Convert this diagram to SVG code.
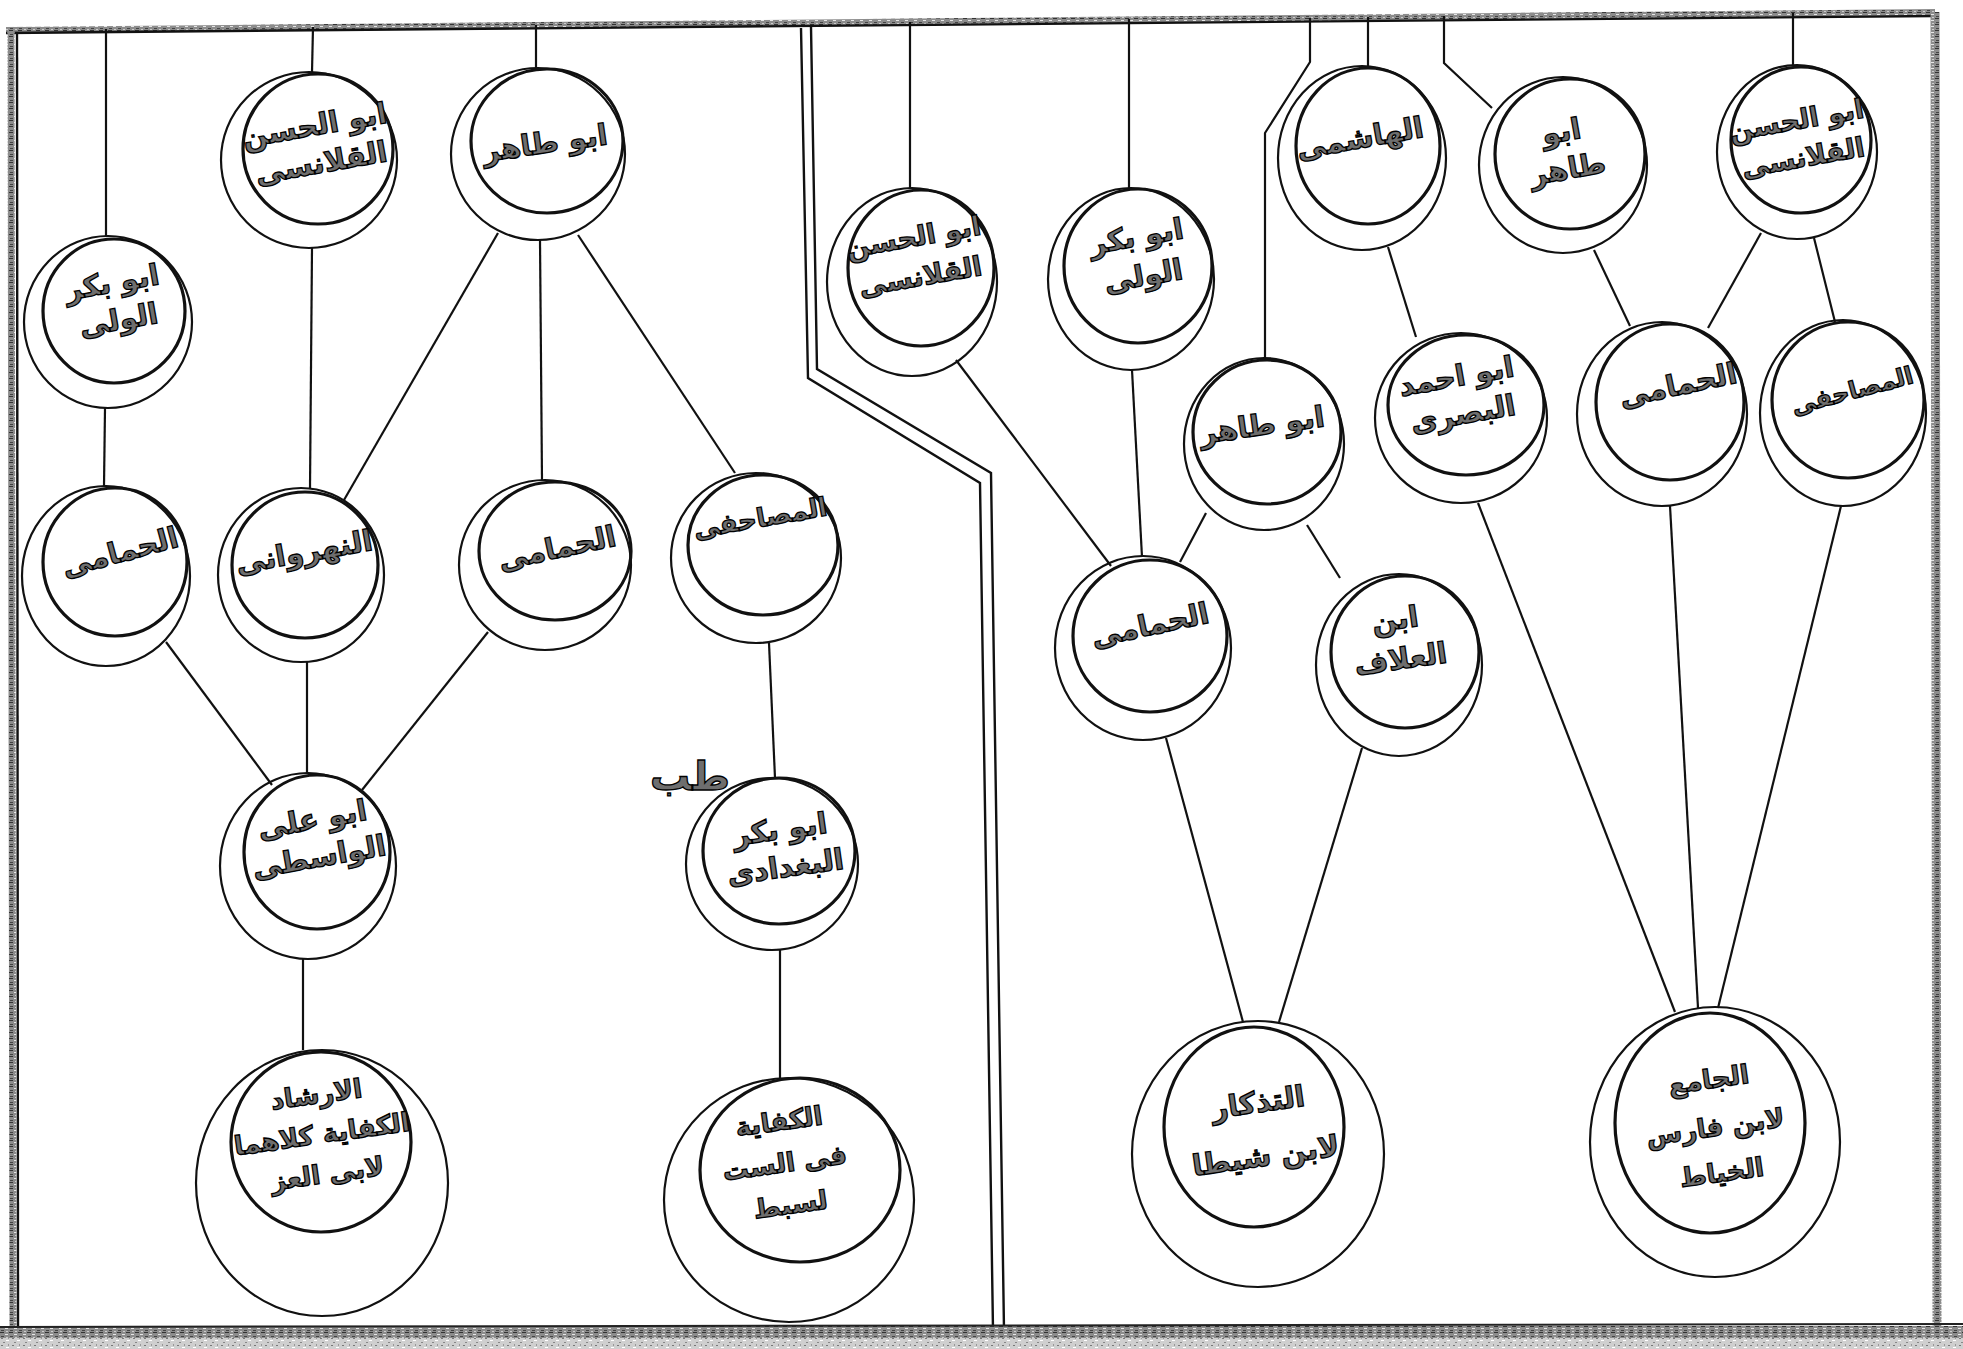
<svg xmlns="http://www.w3.org/2000/svg" width="1963" height="1349" viewBox="0 0 1963 1349">
<defs>
<pattern id="grain" width="9" height="6" patternUnits="userSpaceOnUse">
<rect width="9" height="6" fill="#8c8c8c"/>
<rect x="0" y="0" width="4" height="1" fill="#333"/>
<rect x="5" y="2" width="3" height="1" fill="#e6e6e6"/>
<rect x="1" y="4" width="3" height="1" fill="#444"/>
<rect x="6" y="5" width="2" height="1" fill="#ccc"/>
</pattern>
<pattern id="speck" width="11" height="7" patternUnits="userSpaceOnUse">
<rect width="11" height="7" fill="#cfcfcf"/>
<rect x="1" y="1" width="2" height="1" fill="#777"/>
<rect x="6" y="3" width="3" height="1" fill="#fff"/>
<rect x="3" y="5" width="2" height="1" fill="#888"/>
<rect x="8" y="0" width="1" height="2" fill="#999"/>
</pattern>
<style>
.outer{fill:none;stroke:#111;stroke-width:2.2}
.inner{fill:none;stroke:#111;stroke-width:3.2}
.edge{fill:none;stroke:#111;stroke-width:2.2}
.frame{fill:none;stroke:#111;stroke-width:2.4}
.lbl{font-family:"DejaVu Sans",sans-serif;font-weight:bold;font-size:29px;fill:#6e6e6e;stroke:#000;stroke-width:1.3;text-anchor:middle;direction:rtl}
.sm{font-size:26px}
</style>
</defs>
<rect width="1963" height="1349" fill="#fff"/>

<g id="frame">
<polyline points="6,30 1935,12" fill="none" stroke="url(#grain)" stroke-width="6"/>
<polyline points="6,33 1935,16" class="frame" stroke-width="2"/>
<line x1="11" y1="30" x2="13" y2="1330" stroke="url(#grain)" stroke-width="7"/>
<line x1="17" y1="32" x2="18" y2="1328" class="frame" stroke-width="1.8"/>
<line x1="1935" y1="12" x2="1937" y2="1330" stroke="url(#grain)" stroke-width="9"/>
<polyline class="frame" points="801,28 808,378 980,483 993,1330"/>
<polyline class="frame" points="811,27 817,369 991,473 1004,1330"/>
<rect x="0" y="1326" width="1963" height="12" fill="url(#grain)"/>
<line x1="0" y1="1327" x2="1963" y2="1324" stroke="#222" stroke-width="2"/>
<rect x="0" y="1338" width="1963" height="11" fill="url(#speck)"/>
</g>

<g id="connectors">
<line class="edge" x1="106" y1="29" x2="106" y2="237"/>
<line class="edge" x1="313" y1="27" x2="312" y2="72"/>
<line class="edge" x1="536" y1="25" x2="536" y2="68"/>
<line class="edge" x1="105" y1="408" x2="104" y2="486"/>
<line class="edge" x1="312" y1="248" x2="310" y2="488"/>
<line class="edge" x1="498" y1="233" x2="344" y2="500"/>
<line class="edge" x1="540" y1="240" x2="542" y2="480"/>
<line class="edge" x1="578" y1="235" x2="735" y2="473"/>
<line class="edge" x1="166" y1="642" x2="272" y2="785"/>
<line class="edge" x1="307" y1="662" x2="307" y2="773"/>
<line class="edge" x1="488" y1="632" x2="362" y2="790"/>
<line class="edge" x1="769" y1="643" x2="775" y2="778"/>
<line class="edge" x1="303" y1="959" x2="303" y2="1050"/>
<line class="edge" x1="780" y1="950" x2="780" y2="1080"/>

<line class="edge" x1="910" y1="22" x2="910" y2="188"/>
<line class="edge" x1="1129" y1="19" x2="1129" y2="188"/>
<line class="edge" x1="1368" y1="17" x2="1368" y2="67"/>
<polyline class="edge" points="1310,18 1310,62 1265,133 1265,358"/>
<polyline class="edge" points="1444,16 1444,63 1492,108"/>
<line class="edge" x1="1793" y1="13" x2="1793" y2="65"/>
<line class="edge" x1="956" y1="360" x2="1111" y2="566"/>
<line class="edge" x1="1132" y1="370" x2="1142" y2="557"/>
<line class="edge" x1="1206" y1="513" x2="1180" y2="562"/>
<line class="edge" x1="1307" y1="525" x2="1340" y2="578"/>
<line class="edge" x1="1388" y1="247" x2="1416" y2="337"/>
<line class="edge" x1="1594" y1="250" x2="1630" y2="326"/>
<line class="edge" x1="1761" y1="233" x2="1708" y2="328"/>
<line class="edge" x1="1814" y1="238" x2="1835" y2="322"/>
<line class="edge" x1="1166" y1="738" x2="1243" y2="1022"/>
<line class="edge" x1="1362" y1="748" x2="1279" y2="1022"/>
<line class="edge" x1="1478" y1="503" x2="1675" y2="1012"/>
<line class="edge" x1="1670" y1="506" x2="1698" y2="1008"/>
<line class="edge" x1="1841" y1="506" x2="1718" y2="1008"/>
</g>

<g id="L1"><ellipse class="outer" cx="108" cy="322" rx="84" ry="86"/><ellipse class="inner" cx="114" cy="311" rx="71" ry="72"/>
<text class="lbl" transform="rotate(-10 116 305)" x="116" y="292"><tspan x="116">ابو بكر</tspan><tspan x="116" dy="38">الولى</tspan></text></g>
<g id="L2"><ellipse class="outer" cx="309" cy="160" rx="88" ry="88"/><ellipse class="inner" cx="318" cy="149" rx="75" ry="75"/>
<text class="lbl" transform="rotate(-10 318 145)" x="318" y="135"><tspan x="318">ابو الحسن</tspan><tspan x="318" dy="38">القلانسى</tspan></text></g>
<g id="L3"><ellipse class="outer" cx="538" cy="154" rx="87" ry="86"/><ellipse class="inner" cx="547" cy="141" rx="76" ry="72"/>
<text class="lbl" transform="rotate(-8 545 143)" x="545" y="153">ابو طاهر</text></g>
<g id="L4"><ellipse class="outer" cx="106" cy="576" rx="84" ry="90"/><ellipse class="inner" cx="115" cy="562" rx="72" ry="74"/>
<text class="lbl" transform="rotate(-15 120 552)" x="120" y="562">الحمامى</text></g>
<g id="L5"><ellipse class="outer" cx="301" cy="575" rx="83" ry="87"/><ellipse class="inner" cx="305" cy="565" rx="73" ry="73"/>
<text class="lbl" transform="rotate(-10 304 552)" x="304" y="562">النهروانى</text></g>
<g id="L6"><ellipse class="outer" cx="545" cy="565" rx="86" ry="85"/><ellipse class="inner" cx="555" cy="551" rx="76" ry="69"/>
<text class="lbl" transform="rotate(-12 557 548)" x="557" y="558">الحمامى</text></g>
<g id="L7"><ellipse class="outer" cx="756" cy="558" rx="85" ry="85"/><ellipse class="inner" cx="763" cy="545" rx="75" ry="70"/>
<text class="lbl" transform="rotate(-10 760 517)" x="760" y="527" style="font-size:26px">المصاحفى</text></g>
<g id="L8"><ellipse class="outer" cx="308" cy="866" rx="88" ry="93"/><ellipse class="inner" cx="317" cy="852" rx="73" ry="77"/>
<text class="lbl" transform="rotate(-10 316 840)" x="316" y="829"><tspan x="316">ابو على</tspan><tspan x="316" dy="38">الواسطى</tspan></text></g>
<g id="L9"><ellipse class="outer" cx="772" cy="864" rx="86" ry="86"/><ellipse class="inner" cx="779" cy="851" rx="76" ry="73"/>
<text class="lbl" transform="rotate(-8 783 850)" x="783" y="839"><tspan x="783">ابو بكر</tspan><tspan x="783" dy="38">البغدادى</tspan></text>
<text class="lbl" x="690" y="790" style="font-size:40px">طب</text></g>
<g id="L10"><ellipse class="outer" cx="322" cy="1183" rx="126" ry="133"/><ellipse class="inner" cx="321" cy="1142" rx="90" ry="90"/>
<text class="lbl sm" transform="rotate(-8 322 1135)" x="322" y="1103"><tspan x="322">الارشاد</tspan><tspan x="322" dy="40">الكفاية كلاهما</tspan><tspan x="322" dy="40">لابى العز</tspan></text></g>
<g id="L11"><ellipse class="outer" cx="789" cy="1200" rx="125" ry="122"/><ellipse class="inner" cx="800" cy="1170" rx="100" ry="92"/>
<text class="lbl sm" transform="rotate(-8 785 1165)" x="785" y="1130"><tspan x="785">الكفاية</tspan><tspan x="785" dy="42">فى الست</tspan><tspan x="785" dy="42">لسبط</tspan></text></g>

<g id="R1"><ellipse class="outer" cx="912" cy="282" rx="85" ry="94"/><ellipse class="inner" cx="921" cy="268" rx="73" ry="78"/>
<text class="lbl" transform="rotate(-10 917 257)" x="917" y="246" style="font-size:27px"><tspan x="917">ابو الحسن</tspan><tspan x="917" dy="40">القلانسى</tspan></text></g>
<g id="R2"><ellipse class="outer" cx="1131" cy="279" rx="83" ry="91"/><ellipse class="inner" cx="1138" cy="266" rx="74" ry="77"/>
<text class="lbl" transform="rotate(-10 1140 257)" x="1140" y="246"><tspan x="1140">ابو بكر</tspan><tspan x="1140" dy="40">الولى</tspan></text></g>
<g id="R3"><ellipse class="outer" cx="1362" cy="158" rx="84" ry="92"/><ellipse class="inner" cx="1368" cy="146" rx="72" ry="78"/>
<text class="lbl" transform="rotate(-10 1360 138)" x="1360" y="148">الهاشمى</text></g>
<g id="R4"><ellipse class="outer" cx="1563" cy="165" rx="84" ry="88"/><ellipse class="inner" cx="1570" cy="154" rx="75" ry="75"/>
<text class="lbl" transform="rotate(-10 1565 152)" x="1565" y="141"><tspan x="1565">ابو</tspan><tspan x="1565" dy="38">طاهر</tspan></text></g>
<g id="R5"><ellipse class="outer" cx="1797" cy="152" rx="80" ry="87"/><ellipse class="inner" cx="1801" cy="140" rx="70" ry="73"/>
<text class="lbl" transform="rotate(-10 1800 140)" x="1800" y="129" style="font-size:27px"><tspan x="1800">ابو الحسن</tspan><tspan x="1800" dy="38">القلانسى</tspan></text></g>
<g id="R6"><ellipse class="outer" cx="1264" cy="444" rx="80" ry="86"/><ellipse class="inner" cx="1267" cy="432" rx="74" ry="72"/>
<text class="lbl" transform="rotate(-8 1262 425)" x="1262" y="435">ابو طاهر</text></g>
<g id="R7"><ellipse class="outer" cx="1461" cy="418" rx="86" ry="85"/><ellipse class="inner" cx="1466" cy="405" rx="78" ry="70"/>
<text class="lbl" transform="rotate(-10 1460 397)" x="1460" y="386"><tspan x="1460">ابو احمد</tspan><tspan x="1460" dy="38">البصرى</tspan></text></g>
<g id="R8"><ellipse class="outer" cx="1662" cy="414" rx="85" ry="92"/><ellipse class="inner" cx="1670" cy="402" rx="74" ry="78"/>
<text class="lbl" transform="rotate(-12 1678 385)" x="1678" y="395">الحمامى</text></g>
<g id="R9"><ellipse class="outer" cx="1843" cy="413" rx="83" ry="93"/><ellipse class="inner" cx="1848" cy="400" rx="76" ry="78"/>
<text class="lbl" transform="rotate(-15 1852 390)" x="1852" y="399" style="font-size:24px">المصاحفى</text></g>
<g id="R10"><ellipse class="outer" cx="1143" cy="648" rx="88" ry="92"/><ellipse class="inner" cx="1150" cy="636" rx="77" ry="76"/>
<text class="lbl" transform="rotate(-12 1150 625)" x="1150" y="635">الحمامى</text></g>
<g id="R11"><ellipse class="outer" cx="1399" cy="665" rx="83" ry="91"/><ellipse class="inner" cx="1405" cy="652" rx="74" ry="76"/>
<text class="lbl" transform="rotate(-8 1398 640)" x="1398" y="629"><tspan x="1398">ابن</tspan><tspan x="1398" dy="40">العلاف</tspan></text></g>
<g id="R12"><ellipse class="outer" cx="1258" cy="1154" rx="126" ry="133"/><ellipse class="inner" cx="1254" cy="1127" rx="90" ry="100"/>
<text class="lbl" transform="rotate(-8 1262 1130)" x="1262" y="1112"><tspan x="1262">التذكار</tspan><tspan x="1262" dy="54">لابن شيطا</tspan></text></g>
<g id="R13"><ellipse class="outer" cx="1715" cy="1142" rx="125" ry="135"/><ellipse class="inner" cx="1710" cy="1123" rx="95" ry="110"/>
<text class="lbl sm" transform="rotate(-8 1715 1125)" x="1715" y="1088"><tspan x="1715">الجامع</tspan><tspan x="1715" dy="48">لابن فارس</tspan><tspan x="1715" dy="46">الخياط</tspan></text></g>
</svg>
